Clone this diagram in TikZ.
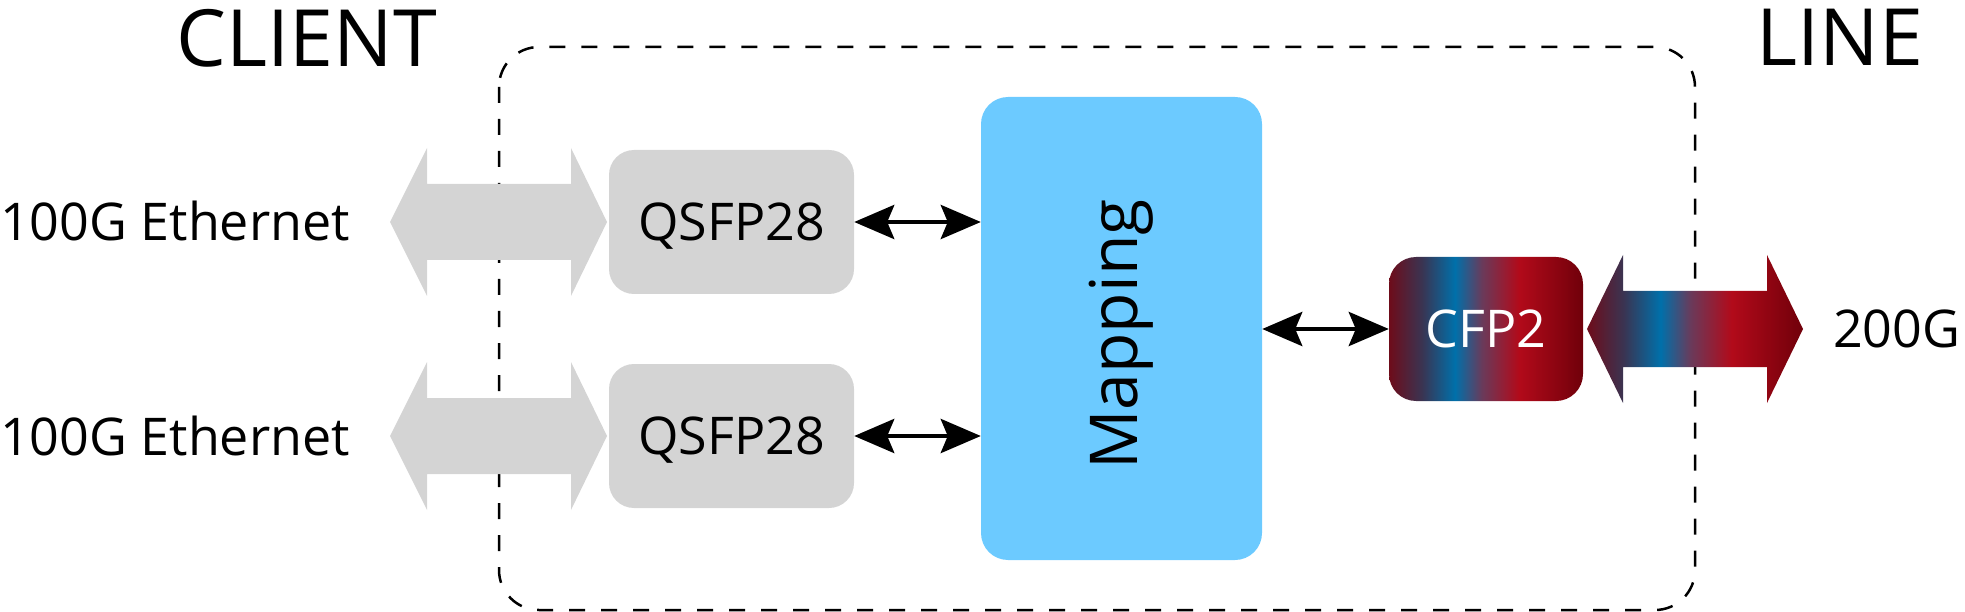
\documentclass[tikz,border=0pt]{standalone}
\usepackage{fontspec}
\setmainfont{Open Sans}
\usetikzlibrary{arrows.meta}
\definecolor{boxgray}{RGB}{212,212,212}
\definecolor{mapblue}{RGB}{108,202,255}
\definecolor{gA}{RGB}{110,12,26}
\definecolor{gB}{RGB}{58,52,82}
\definecolor{gC}{RGB}{0,112,170}
\definecolor{gD}{RGB}{106,58,90}
\definecolor{gE}{RGB}{178,10,26}
\definecolor{gF}{RGB}{112,0,10}
\pgfdeclarehorizontalshading{cfpgrad}{100bp}{color(0bp)=(gA); color(25bp)=(gA); color(33.5bp)=(gB); color(42bp)=(gC); color(49bp)=(gD); color(58.5bp)=(gE); color(75bp)=(gF); color(100bp)=(gF)}
\begin{document}
\begin{tikzpicture}[x=1pt,y=-1pt,
  lbl/.style={inner sep=0pt, font=\fontsize{52}{60}\selectfont},
  big/.style={inner sep=0pt, font=\fontsize{79}{90}\selectfont},
  gbox/.style={fill=boxgray, rounded corners=25pt, minimum width=245pt, minimum height=144pt,
    inner sep=0pt, text height=37pt, text depth=0pt, font=\fontsize{52}{60}\selectfont},
  mapbox/.style={fill=mapblue, rounded corners=27pt, minimum width=281pt, minimum height=463pt,
    inner sep=0pt, font=\fontsize{66}{76}\selectfont},
  cfpbox/.style={shade, shading=cfpgrad, rounded corners=27pt, minimum width=194pt, minimum height=144pt,
    inner sep=0pt, text height=37pt, text depth=0pt, text=white, font=\fontsize{52}{60}\selectfont},
  dbl/.style={line width=4.5pt, {Stealth[length=40pt, width=34pt, inset=7pt]}-{Stealth[length=40pt, width=34pt, inset=7pt]}},
  frame/.style={draw, line width=2.5pt, dash pattern=on 16pt off 16pt, rounded corners=40pt}
]
\useasboundingbox (0,0) rectangle (1965,612);

% dashed frame
\draw[frame] (499,47) rectangle (1695,610);

% fat arrows
\fill[boxgray, shift={(390,222)}] (0,0) -- (37,-74) -- (37,-38) -- (181,-38) -- (181,-74) -- (217,0)
  -- (181,74) -- (181,38) -- (37,38) -- (37,74) -- cycle;
\fill[boxgray, shift={(390,436)}] (0,0) -- (37,-74) -- (37,-38) -- (181,-38) -- (181,-74) -- (217,0)
  -- (181,74) -- (181,38) -- (37,38) -- (37,74) -- cycle;
\path[shade, shading=cfpgrad, shift={(1587,329)}] (0,0) -- (36,-74) -- (36,-38) -- (180,-38) -- (180,-74) -- (216,0)
  -- (180,74) -- (180,38) -- (36,38) -- (36,74) -- cycle;

% boxes
\node[gbox] (q1) at (731.5,222) {QSFP28};
\node[gbox] (q2) at (731.5,436) {QSFP28};
\node[mapbox] (map) at (1121.5,328.5) {\rotatebox{90}{Mapping\hspace*{12pt}}};
\node[cfpbox] (cfp) at (1486,329) {CFP2};

% connectors
\draw[dbl] (q1.east) -- (q1.east -| map.west);
\draw[dbl] (q2.east) -- (q2.east -| map.west);
\draw[dbl] (cfp.west -| map.east) -- (cfp.west);

% labels
\node[lbl, anchor=base west] (e1) at (0,241) {100G Ethernet};
\node[lbl, anchor=base west] (e2) at (0,455) {100G Ethernet};
\node[lbl, anchor=base west] (g200) at (1833,347) {200G};
\node[big, anchor=base] (client) at (307,67) {CLIENT};
\node[big, anchor=base] (line) at (1840,66) {LINE};
\end{tikzpicture}
\end{document}
